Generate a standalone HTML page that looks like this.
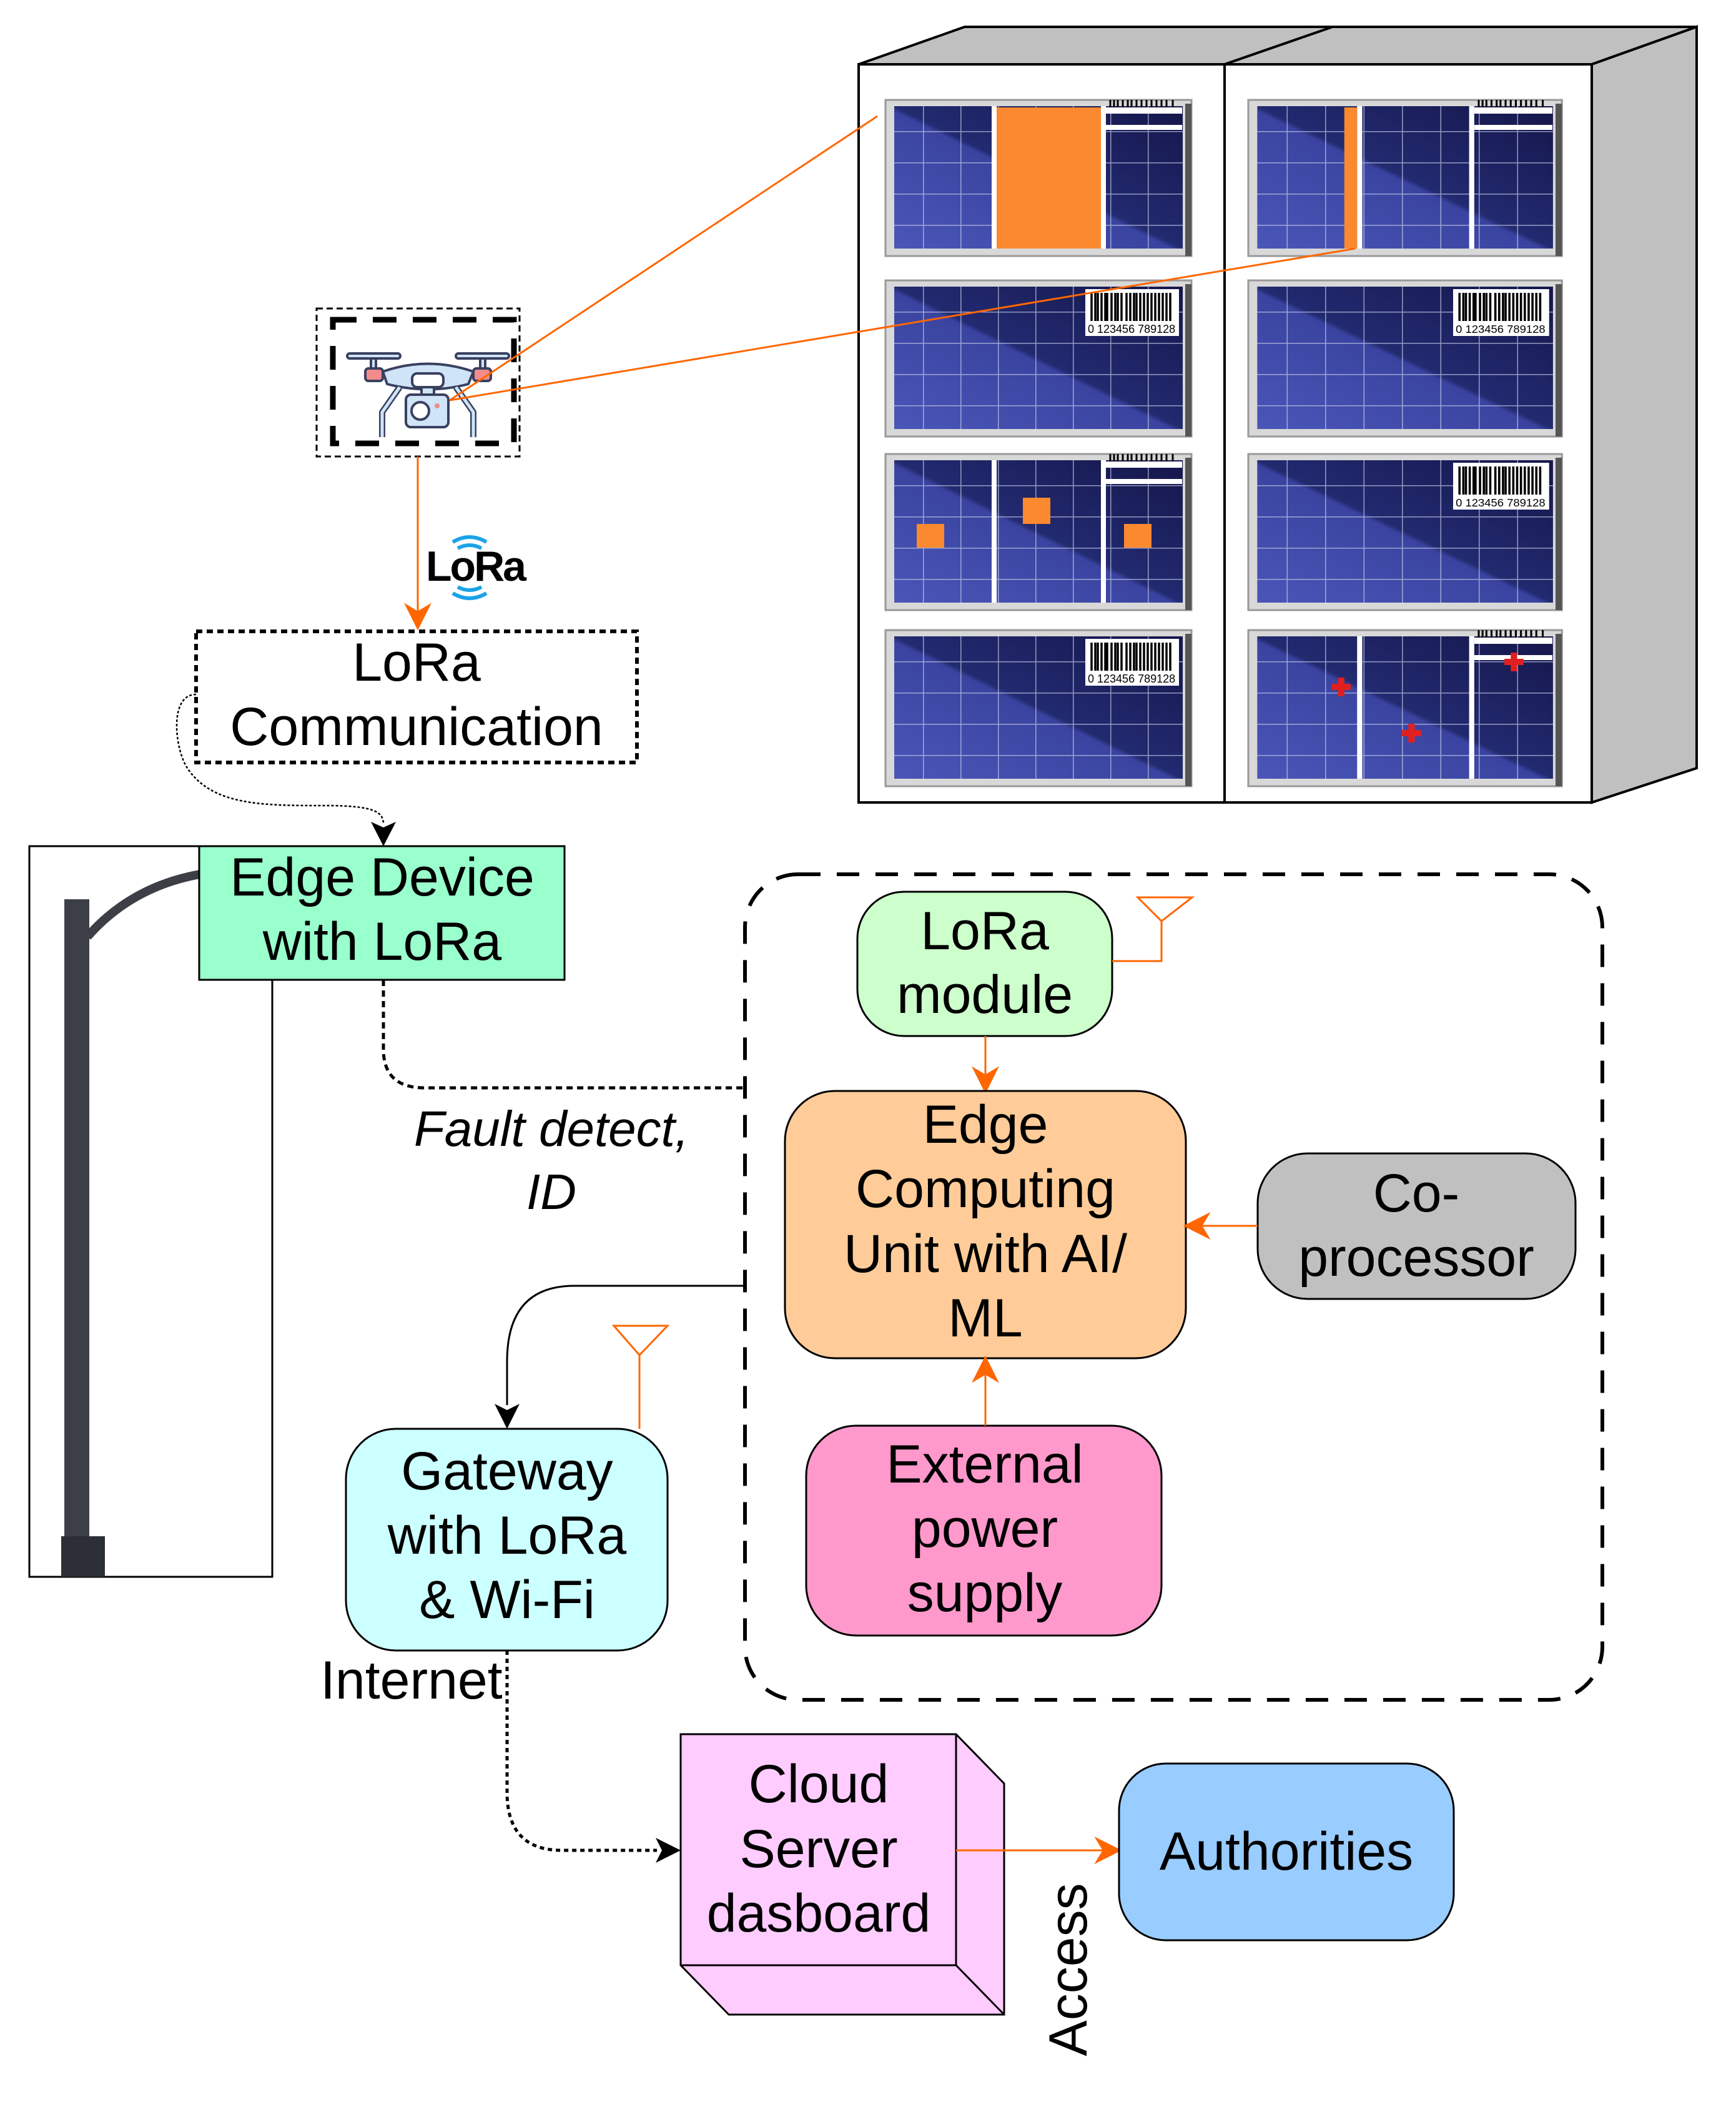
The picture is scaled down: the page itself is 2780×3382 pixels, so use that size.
<!DOCTYPE html>
<html><head><meta charset="utf-8"><style>
html,body{margin:0;padding:0;background:#fff}
svg{display:block}
text{font-family:"Liberation Sans",Arial,sans-serif;fill:#000}
</style></head><body>
<svg width="2780" height="3382" viewBox="0 0 2780 3382" xmlns="http://www.w3.org/2000/svg">
<defs>
<linearGradient id="pg" x1="1" y1="0" x2="0" y2="1">
<stop offset="0" stop-color="#15164a"/><stop offset="0.5" stop-color="#222a70"/><stop offset="0.52" stop-color="#3a44a0"/><stop offset="1" stop-color="#4a56b8"/>
</linearGradient>
<pattern id="grid" width="60" height="50" patternUnits="userSpaceOnUse">
<rect width="60" height="50" fill="none"/>
<path d="M0 0H60M0 0V50" stroke="#c8cce8" stroke-width="3" opacity="0.7"/>
</pattern>
<g id="pbase">
<rect x="0" y="0" width="490" height="250" fill="#d8d8d8" stroke="#999" stroke-width="3"/>
<rect x="480" y="6" width="10" height="244" fill="#555"/>
<rect x="14" y="10" width="462" height="228" fill="url(#pg)"/>
<rect x="14" y="10" width="462" height="228" fill="url(#grid)"/>
</g>
<g id="bar">
<rect x="320" y="14" width="150" height="75" fill="#fff"/>
<path d="M330 20v45M336 20v45M340 20v45M346 20v45M352 20v45M355 20v45M362 20v45M368 20v45M372 20v45M378 20v45M386 20v45M392 20v45M398 20v45M402 20v45M408 20v45M414 20v45M420 20v45M426 20v45M432 20v45M438 20v45M444 20v45M450 20v45M456 20v45" stroke="#000" stroke-width="3.5"/>
</g>
<g id="sect">
<rect x="170" y="10" width="8" height="228" fill="#fff"/>
<rect x="345" y="10" width="8" height="228" fill="#fff"/>
<rect x="353" y="12" width="122" height="10" fill="#fff"/>
<path d="M360 0v12M366 0v12M372 0v12M380 0v12M388 0v12M394 0v12M402 0v12M410 0v12M418 0v12M426 0v12M434 0v12M442 0v12M450 0v12M460 0v12" stroke="#000" stroke-width="3"/>
<rect x="353" y="40" width="122" height="8" fill="#fff"/>
</g>
<marker id="ao" markerWidth="10" markerHeight="10" refX="9" refY="5" orient="auto" markerUnits="userSpaceOnUse" viewBox="0 0 10 10"><path d="M0 0L10 5L0 10L3 5z" fill="#ff6600"/></marker>
<marker id="ab" viewBox="0 0 10 10" refX="9" refY="5" markerWidth="40" markerHeight="40" orient="auto" markerUnits="userSpaceOnUse"><path d="M0 0L10 5L0 10L3 5z" fill="#000"/></marker>
<marker id="ao2" viewBox="0 0 10 10" refX="9" refY="5" markerWidth="44" markerHeight="44" orient="auto" markerUnits="userSpaceOnUse"><path d="M0 0L10 5L0 10L3 5z" fill="#ff6600"/></marker>
</defs>

<!-- Cabinet -->
<polygon points="1375,103 1545,43 2717,43 2549,103" fill="#c0c0c0" stroke="#000" stroke-width="4"/>
<line x1="1961" y1="103" x2="2134" y2="43" stroke="#000" stroke-width="4"/>
<polygon points="2549,103 2717,43 2717,1230 2549,1285" fill="#c0c0c0" stroke="#000" stroke-width="4"/>
<rect x="1375" y="103" width="586" height="1182" fill="#fff" stroke="#000" stroke-width="4"/>
<rect x="1961" y="103" width="588" height="1182" fill="#fff" stroke="#000" stroke-width="4"/>

<!-- left column panels -->
<g transform="translate(1418,160)"><use href="#pbase"/><use href="#sect"/><rect x="178" y="12" width="167" height="226" fill="#fb8930"/></g>
<g transform="translate(1418,449)"><use href="#pbase"/><use href="#bar"/><text x="324" y="84" font-size="18" font-family="Liberation Mono">0 123456 789128</text></g>
<g transform="translate(1418,727)"><use href="#pbase"/><use href="#sect"/><rect x="50" y="112" width="44" height="38" fill="#fb8930"/><rect x="220" y="70" width="44" height="42" fill="#fb8930"/><rect x="382" y="112" width="44" height="38" fill="#fb8930"/></g>
<g transform="translate(1418,1009)"><use href="#pbase"/><use href="#bar"/><text x="324" y="84" font-size="18" font-family="Liberation Mono">0 123456 789128</text></g>
<!-- right column panels -->
<g transform="translate(1999,160) scale(1.025,1)"><use href="#pbase"/><use href="#sect"/><rect x="150" y="12" width="20" height="226" fill="#fb8930"/></g>
<g transform="translate(1999,449) scale(1.025,1)"><use href="#pbase"/><use href="#bar"/><text x="324" y="84" font-size="18" font-family="Liberation Mono">0 123456 789128</text></g>
<g transform="translate(1999,727) scale(1.025,1)"><use href="#pbase"/><use href="#bar"/><text x="324" y="84" font-size="18" font-family="Liberation Mono">0 123456 789128</text></g>
<g transform="translate(1999,1009) scale(1.025,1)"><use href="#pbase"/><use href="#sect"/>
<path d="M130 86h10v-10h10v10h10v10h-10v10h-10v-10h-10z" fill="#e02020"/>
<path d="M240 160h10v-10h10v10h10v10h-10v10h-10v-10h-10z" fill="#e02020"/>
<path d="M400 46h10v-10h10v10h10v10h-10v10h-10v-10h-10z" fill="#e02020"/></g>

<!-- Drone box -->
<rect x="507" y="494" width="325" height="237" fill="#fff" stroke="#000" stroke-width="3" stroke-dasharray="10,6"/>
<rect x="533" y="512" width="290" height="198" fill="none" stroke="#000" stroke-width="9" stroke-dasharray="38,26"/>
<!-- drone icon -->
<g stroke="#3a4060" stroke-width="4" stroke-linejoin="round">
<rect x="556" y="566" width="85" height="8" rx="4" fill="#cfe4f7"/>
<rect x="730" y="566" width="85" height="8" rx="4" fill="#cfe4f7"/>
<rect x="594" y="574" width="8" height="16" fill="#cfe4f7"/>
<rect x="769" y="574" width="8" height="16" fill="#cfe4f7"/>
<rect x="585" y="590" width="28" height="20" rx="5" fill="#f28b8b"/>
<rect x="758" y="590" width="28" height="20" rx="5" fill="#f28b8b"/>
<path d="M613 595 Q685 570 758 595 L750 615 Q685 632 620 615 Z" fill="#cfe4f7"/>
<rect x="660" y="598" width="50" height="22" rx="8" fill="#fff"/>
<path d="M640 620 L612 660 L612 700 M730 620 L758 660 L758 700" fill="none" stroke-width="10" stroke="#3a4060"/>
<path d="M640 620 L612 660 L612 700 M730 620 L758 660 L758 700" fill="none" stroke-width="5" stroke="#cfe4f7"/>
<rect x="675" y="620" width="20" height="12" fill="#cfe4f7"/>
<rect x="650" y="632" width="68" height="52" rx="8" fill="#cfe4f7"/>
<circle cx="673" cy="658" r="14" fill="#fff"/>
</g>
<circle cx="700" cy="650" r="4" fill="#f28b8b"/>
<!-- orange lines from drone -->
<line x1="720" y1="641" x2="1405" y2="186" stroke="#ff6600" stroke-width="3"/>
<line x1="720" y1="641" x2="2170" y2="398" stroke="#ff6600" stroke-width="3"/>
<line x1="669" y1="731" x2="669" y2="1005" stroke="#ff6600" stroke-width="3" marker-end="url(#ao2)"/>
<!-- LoRa logo -->
<g fill="none" stroke="#1aa3e8" stroke-width="6">
<path d="M725 868 Q752 852 779 868"/><path d="M733 878 Q752 868 771 878"/>
<path d="M725 950 Q752 966 779 950"/><path d="M733 940 Q752 950 771 940"/>
</g>
<text x="682" y="930" font-size="68" font-weight="bold" letter-spacing="-3">LoRa</text>

<!-- LoRa communication box -->
<rect x="314" y="1011" width="706" height="210" fill="#fff" stroke="#000" stroke-width="6" stroke-dasharray="10,7"/>
<text x="667" y="1090" font-size="86" text-anchor="middle">LoRa</text>
<text x="667" y="1193" font-size="86" text-anchor="middle">Communication</text>
<!-- dotted curve -->
<path d="M314 1112 C270 1112 280 1200 300 1230 C340 1290 420 1290 520 1290 C600 1290 614 1300 614 1320" fill="none" stroke="#000" stroke-width="2.5" stroke-dasharray="4,3"/>
<path d="M594 1316 L614 1355 L634 1316 L614 1325 Z" fill="#000"/>

<!-- pole box -->
<rect x="47" y="1355" width="389" height="1170" fill="#fff" stroke="#000" stroke-width="3"/>
<rect x="103" y="1440" width="40" height="1080" fill="#3c4046"/>
<rect x="98" y="2460" width="70" height="65" fill="#2c3036"/>
<path d="M140 1500 Q210 1420 320 1400" fill="none" stroke="#3c4046" stroke-width="14"/>
<!-- Edge device -->
<rect x="319" y="1355" width="585" height="214" fill="#99ffcc" stroke="#000" stroke-width="3"/>
<text x="612" y="1434" font-size="86" text-anchor="middle">Edge Device</text>
<text x="612" y="1537" font-size="86" text-anchor="middle">with LoRa</text>
<!-- dashed edge device to container -->
<path d="M614 1569 V1680 Q614 1742 680 1742 H1193" fill="none" stroke="#000" stroke-width="5" stroke-dasharray="10,7"/>
<text x="883" y="1835" font-size="80" font-style="italic" text-anchor="middle">Fault detect,</text>
<text x="883" y="1936" font-size="80" font-style="italic" text-anchor="middle">ID</text>

<!-- Container -->
<rect x="1193" y="1400" width="1373" height="1322" rx="85" fill="none" stroke="#000" stroke-width="6" stroke-dasharray="36,26"/>
<!-- LoRa module -->
<rect x="1373" y="1428" width="408" height="231" rx="75" fill="#ccffcc" stroke="#000" stroke-width="3"/>
<text x="1577" y="1520" font-size="86" text-anchor="middle">LoRa</text>
<text x="1577" y="1622" font-size="86" text-anchor="middle">module</text>
<path d="M1781 1539 H1860 V1475 M1822 1437 H1909 L1860 1475 Z" fill="none" stroke="#ff6600" stroke-width="3"/>
<line x1="1578" y1="1659" x2="1578" y2="1747" stroke="#ff6600" stroke-width="3" marker-end="url(#ao2)"/>
<!-- Edge computing -->
<rect x="1257" y="1747" width="642" height="428" rx="80" fill="#ffcc99" stroke="#000" stroke-width="3"/>
<text x="1578" y="1830" font-size="86" text-anchor="middle">Edge</text>
<text x="1578" y="1933" font-size="86" text-anchor="middle">Computing</text>
<text x="1578" y="2037" font-size="86" text-anchor="middle">Unit with AI/</text>
<text x="1578" y="2140" font-size="86" text-anchor="middle">ML</text>
<!-- Co-processor -->
<rect x="2014" y="1847" width="509" height="233" rx="80" fill="#c0c0c0" stroke="#000" stroke-width="3"/>
<text x="2268" y="1940" font-size="86" text-anchor="middle">Co-</text>
<text x="2268" y="2043" font-size="86" text-anchor="middle">processor</text>
<line x1="2014" y1="1963" x2="1899" y2="1963" stroke="#ff6600" stroke-width="3" marker-end="url(#ao2)"/>
<!-- External power -->
<rect x="1291" y="2283" width="569" height="336" rx="80" fill="#ff99cc" stroke="#000" stroke-width="3"/>
<text x="1577" y="2374" font-size="86" text-anchor="middle">External</text>
<text x="1577" y="2477" font-size="86" text-anchor="middle">power</text>
<text x="1577" y="2580" font-size="86" text-anchor="middle">supply</text>
<line x1="1578" y1="2283" x2="1578" y2="2175" stroke="#ff6600" stroke-width="3" marker-end="url(#ao2)"/>

<!-- container to gateway -->
<path d="M1193 2059 H920 Q812 2059 812 2180 V2250" fill="none" stroke="#000" stroke-width="3"/>
<path d="M792 2248 L812 2288 L832 2248 L812 2258 Z" fill="#000"/>
<!-- Gateway -->
<rect x="554" y="2288" width="515" height="355" rx="80" fill="#ccffff" stroke="#000" stroke-width="3"/>
<text x="812" y="2385" font-size="86" text-anchor="middle">Gateway</text>
<text x="812" y="2488" font-size="86" text-anchor="middle">with LoRa</text>
<text x="812" y="2591" font-size="86" text-anchor="middle">&amp; Wi-Fi</text>
<path d="M1024 2288 V2170 M983 2123 H1069 L1024 2170 Z" fill="none" stroke="#ff6600" stroke-width="3"/>
<text x="513" y="2720" font-size="86">Internet</text>
<!-- dotted gateway to cloud -->
<path d="M812 2643 V2870 Q812 2963 900 2963 H1052" fill="none" stroke="#000" stroke-width="5" stroke-dasharray="7,6"/>
<path d="M1050 2943 L1090 2963 L1050 2983 L1060 2963 Z" fill="#000"/>
<!-- Cloud -->
<polygon points="1090,2777 1531,2777 1608,2856 1608,3226 1167,3226 1090,3147" fill="#ffccff" stroke="#000" stroke-width="3"/>
<path d="M1531 2777 V3147 H1090 M1531 3147 L1608 3226" fill="none" stroke="#000" stroke-width="3"/>
<text x="1311" y="2886" font-size="86" text-anchor="middle">Cloud</text>
<text x="1311" y="2990" font-size="86" text-anchor="middle">Server</text>
<text x="1311" y="3093" font-size="86" text-anchor="middle">dasboard</text>
<line x1="1531" y1="2963" x2="1792" y2="2963" stroke="#ff6600" stroke-width="3" marker-end="url(#ao2)"/>
<!-- Authorities -->
<rect x="1792" y="2824" width="536" height="283" rx="75" fill="#99ccff" stroke="#000" stroke-width="3"/>
<text x="2060" y="2994" font-size="86" text-anchor="middle">Authorities</text>
<text transform="translate(1740,3154) rotate(-90)" font-size="86" text-anchor="middle">Access</text>
</svg>
</body></html>
